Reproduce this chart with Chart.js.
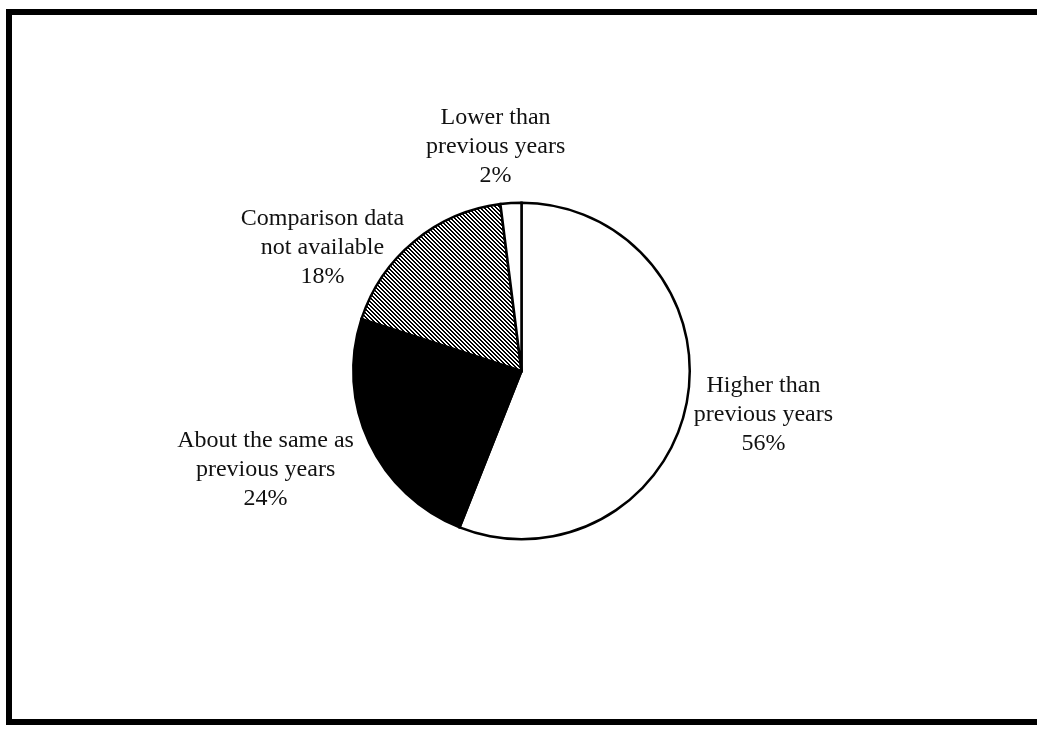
<!DOCTYPE html>
<html>
<head>
<meta charset="utf-8">
<script src="https://cdn.jsdelivr.net/npm/chart.js@4/dist/chart.umd.min.js"></script>
<style>
  html, body { margin: 0; padding: 0; background: #fff; }
  #wrap { position: relative; width: 1037px; height: 730px; overflow: hidden; }
  #frame {
    position: absolute; left: 6px; top: 9px; width: 1040px; height: 704px;
    border-left: 6px solid #000; border-top: 6px solid #000; border-bottom: 6px solid #000;
  }
  canvas { position: absolute; left: 0; top: 0; }
</style>
</head>
<body>
<div id="wrap">
  <div id="frame"></div>
  <canvas id="chart" width="1037" height="730"></canvas>
</div>
<script>
// Survey response categories, in clockwise order from 12 o'clock
const categories = [
  'Higher than previous years',
  'About the same as previous years',
  'Comparison data not available',
  'Lower than previous years'
];
// Text lines shown beside each slice (the share is appended as a third line)
const labelLines = [
  ['Higher than', 'previous years'],
  ['About the same as', 'previous years'],
  ['Comparison data', 'not available'],
  ['Lower than', 'previous years']
];
// Share of responses, percent
const shares = [56, 24, 18, 2];

// Diagonal hatch for the "not available" slice
function makeHatch() {
  const size = 4;
  const c = document.createElement('canvas');
  c.width = size; c.height = size;
  const g = c.getContext('2d');
  const img = g.createImageData(size, size);
  for (let y = 0; y < size; y++) {
    for (let x = 0; x < size; x++) {
      const on = ((x - y) % size + size) % size < 2;
      const i = (y * size + x) * 4;
      const v = on ? 0 : 255;
      img.data[i] = v; img.data[i + 1] = v; img.data[i + 2] = v; img.data[i + 3] = 255;
    }
  }
  g.putImageData(img, 0, 0);
  return g.createPattern(c, 'repeat');
}

const ctx = document.getElementById('chart').getContext('2d');
const hatch = makeHatch();

// Label block centres relative to the pie centre, in units of the outer radius
const labelOffsets = [
  [1.438, 0.260],
  [-1.521, 0.586],
  [-1.183, -0.734],
  [-0.154, -1.331]
];

const sliceLabels = {
  id: 'sliceLabels',
  afterDatasetsDraw(chart, args, opts) {
    const meta = chart.getDatasetMeta(0);
    const g = chart.ctx;
    g.save();
    g.font = opts.font;
    g.fillStyle = opts.color;
    g.textAlign = 'center';
    g.textBaseline = 'middle';
    meta.data.forEach((arc, i) => {
      const r = arc.outerRadius;
      const cx = arc.x + labelOffsets[i][0] * r;
      const cy = arc.y + labelOffsets[i][1] * r;
      const lines = labelLines[i].concat([shares[i] + '%']);
      const lh = opts.lineHeight;
      const top = cy - (lines.length - 1) * lh / 2;
      lines.forEach((t, k) => g.fillText(t, cx, top + k * lh));
    });
    g.restore();
  }
};

new Chart(ctx, {
  type: 'pie',
  data: {
    labels: categories,
    datasets: [{
      data: shares,
      backgroundColor: ['#ffffff', '#000000', hatch, '#ffffff'],
      borderColor: '#000000',
      borderWidth: 2.5,
      borderJoinStyle: 'miter'
    }]
  },
  options: {
    responsive: false,
    animation: false,
    rotation: 0,
    layout: { padding: { left: 352, right: 346, top: 201, bottom: 189 } },
    plugins: {
      legend: { display: false },
      tooltip: { enabled: false },
      sliceLabels: {
        font: '24px "Liberation Serif", "Times New Roman", serif',
        color: '#111111',
        lineHeight: 29
      }
    }
  },
  plugins: [sliceLabels]
});
</script>
</body>
</html>
